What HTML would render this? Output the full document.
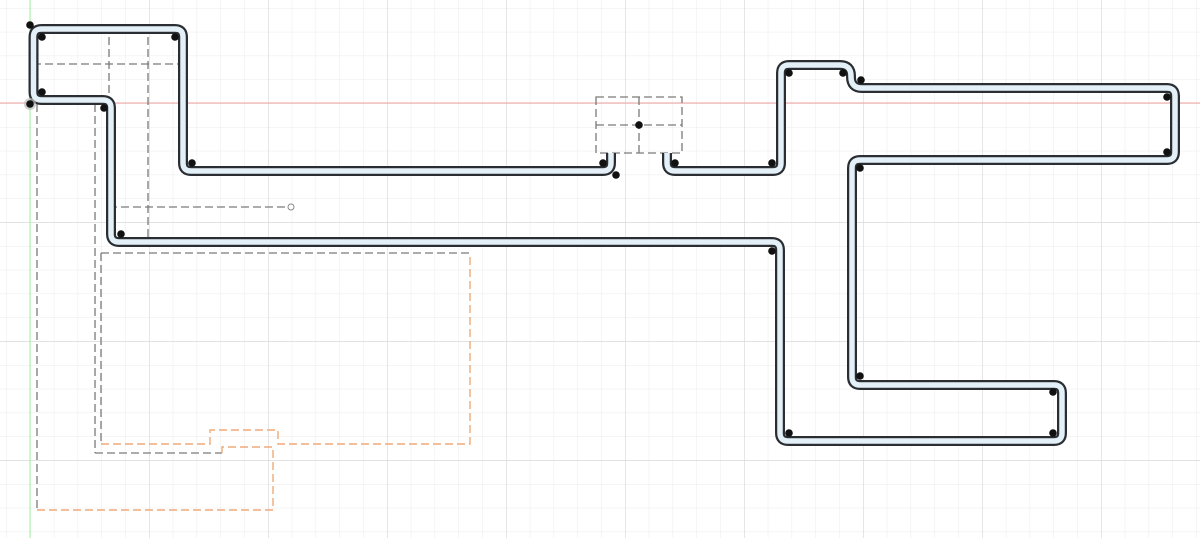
<!DOCTYPE html>
<html><head><meta charset="utf-8"><style>
html,body{margin:0;padding:0;background:#fff;}
svg{display:block;}
</style></head><body>
<svg width="1200" height="538" viewBox="0 0 1200 538" xmlns="http://www.w3.org/2000/svg">
<defs>
<pattern id="minor" x="6.2" y="8" width="23.8" height="23.8" patternUnits="userSpaceOnUse">
<path d="M0 0H23.8M0 0V23.8" stroke="#ebebeb" stroke-width="1" fill="none"/>
</pattern>
<pattern id="major" x="30" y="103" width="119" height="119" patternUnits="userSpaceOnUse">
<path d="M0 0H119M0 0V119" stroke="#d6d6d6" stroke-width="1.2" fill="none"/>
</pattern>
</defs>
<rect width="1200" height="538" fill="#fff"/>
<rect width="1200" height="538" fill="url(#minor)"/>
<rect width="1200" height="538" fill="url(#major)"/>
<line x1="0" y1="103" x2="1200" y2="103" stroke="#f2a0a0" stroke-width="1"/>
<line x1="30" y1="0" x2="30" y2="538" stroke="#9ef09e" stroke-width="1"/>

<g fill="none" stroke="#7a7a7a" stroke-width="1.3" stroke-dasharray="8,4">
<line x1="109" y1="25" x2="109" y2="242"/>
<line x1="148" y1="25" x2="148" y2="247"/>
<line x1="33" y1="64" x2="183" y2="64"/>
<line x1="37" y1="104" x2="100" y2="104"/>
<line x1="37" y1="104" x2="37" y2="510"/>
<line x1="95" y1="104" x2="95" y2="453"/>
<line x1="109" y1="207" x2="288" y2="207"/>
<rect x="596" y="97" width="86" height="56"/>
<line x1="639" y1="97" x2="639" y2="153"/>
<line x1="596" y1="125" x2="682" y2="125"/>
<line x1="101" y1="253" x2="470" y2="253"/>
<line x1="101" y1="253" x2="101" y2="444"/>
<line x1="95" y1="453" x2="222" y2="453"/>
</g>
<circle cx="291" cy="207" r="3" fill="#fff" stroke="#888" stroke-width="1"/>
<g fill="none" stroke="#eeaa78" stroke-width="1.4" stroke-dasharray="8,4">
<polyline points="101,444 210,444 210,430 278,430 278,444 470,444 470,253"/>
<polyline points="222,453 222,447 273,447 273,510 37,510"/>
</g>

<g fill="none" stroke-linejoin="round">
<path d="M611 153 V163 Q611 171 603 171 H191 Q183 171 183 163 V37 Q183 29 175 29 H41.5 Q33.5 29 33.5 37 V92 Q33.5 100 41.5 100 H103 Q111 100 111 108 V234 Q111 242 119 242 H772 Q780 242 780 250 V433 Q780 441 788 441 H1054 Q1062 441 1062 433 V393 Q1062 385 1054 385 H860 Q852 385 852 377 V168 Q852 160 860 160 H1167 Q1175 160 1175 152 V96 Q1175 88 1167 88 H862 Q851 88 851 77 V76 Q851 65 840 65 H789 Q781 65 781 73 V163 Q781 171 773 171 H675 Q667 171 667 163 V153" stroke="#2a2e33" stroke-width="10"/>
<path d="M611 153 V163 Q611 171 603 171 H191 Q183 171 183 163 V37 Q183 29 175 29 H41.5 Q33.5 29 33.5 37 V92 Q33.5 100 41.5 100 H103 Q111 100 111 108 V234 Q111 242 119 242 H772 Q780 242 780 250 V433 Q780 441 788 441 H1054 Q1062 441 1062 433 V393 Q1062 385 1054 385 H860 Q852 385 852 377 V168 Q852 160 860 160 H1167 Q1175 160 1175 152 V96 Q1175 88 1167 88 H862 Q851 88 851 77 V76 Q851 65 840 65 H789 Q781 65 781 73 V163 Q781 171 773 171 H675 Q667 171 667 163 V153" stroke="#e4f0f7" stroke-width="5.5"/>
</g>

<circle cx="30" cy="104" r="6" fill="#bbb" opacity="0.7"/>
<g fill="#111">
<circle cx="30" cy="25" r="3.8"/><circle cx="42" cy="37" r="3.8"/><circle cx="175" cy="37" r="3.8"/>
<circle cx="42" cy="92" r="3.8"/><circle cx="30" cy="104" r="3.8"/><circle cx="104" cy="108" r="3.8"/>
<circle cx="192" cy="163" r="3.8"/><circle cx="121" cy="234" r="3.8"/>
<circle cx="603" cy="163" r="3.8"/><circle cx="616" cy="175" r="3.8"/><circle cx="639" cy="125" r="3.8"/>
<circle cx="675" cy="163" r="3.8"/><circle cx="772" cy="163" r="3.8"/><circle cx="789" cy="73" r="3.8"/>
<circle cx="843" cy="73" r="3.8"/><circle cx="861" cy="80" r="3.8"/><circle cx="860" cy="168" r="3.8"/>
<circle cx="772" cy="251" r="3.8"/><circle cx="789" cy="433" r="3.8"/><circle cx="860" cy="376" r="3.8"/>
<circle cx="1053" cy="392" r="3.8"/><circle cx="1053" cy="433" r="3.8"/>
<circle cx="1167" cy="97" r="3.8"/><circle cx="1167" cy="152" r="3.8"/>
</g>
</svg>
</body></html>
